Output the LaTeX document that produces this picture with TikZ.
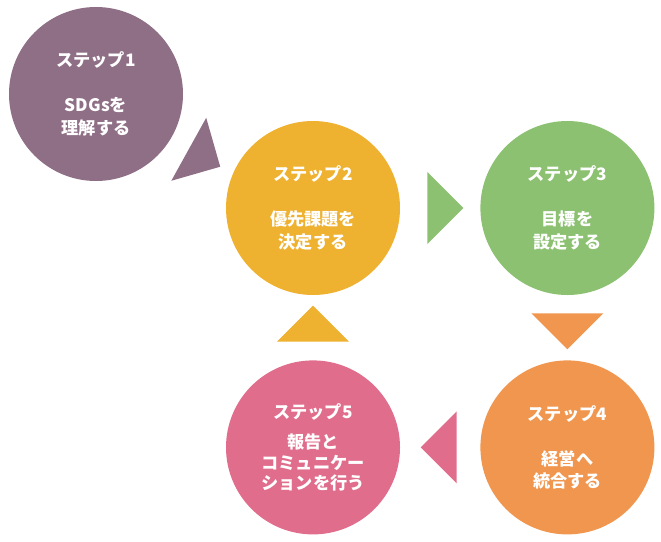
\documentclass[tikz,border=0pt]{standalone}
\usepackage{fontspec}
\newfontfamily\jpfont{Noto Sans CJK JP}
\usetikzlibrary{positioning, calc}
\definecolor{stepviolet}{HTML}{8F6F86}
\definecolor{stepyellow}{HTML}{EEB130}
\definecolor{stepgreen}{HTML}{8CC171}
\definecolor{steporange}{HTML}{F0964F}
\definecolor{steppink}{HTML}{E06D8C}
\tikzset{
  base/.style={
    circle, draw=none, minimum size=174pt, inner sep=0pt,
    align=center, text=white,
    font=\jpfont\bfseries\fontsize{17.2}{22.5}\selectfont,
  },
  s1box/.style={base, fill=stepviolet},
  s2box/.style={base, fill=stepyellow},
  s3box/.style={base, fill=stepgreen},
  s4box/.style={base, fill=steporange},
  s5box/.style={base, fill=steppink},
  % flat triangle pointing along +x, turned with rotate=
  stepmark/.pic={\fill (-18,-36) -- (18,0) -- (-18,36) -- cycle;},
}

\begin{document}
\begin{tikzpicture}[x=1pt, y=-1pt]
\useasboundingbox (0,0) rectangle (661,541);

%% ════════════════════════════════════════════════════════════
%%  STEP CIRCLES
%% ════════════════════════════════════════════════════════════
\node[s1box] (s1) at (96,94)
  {ステップ1\\ \\SDGsを\\理解する};

\node[s2box] (s2) at (313,208)
  {ステップ2\\ \\優先課題を\\決定する};

\node[s3box, right=80pt of s2] (s3)
  {ステップ3\\ \\目標を\\設定する};

\node[s4box, below=65pt of s3] (s4)
  {ステップ4\\ \\経営へ\\統合する};

\node[s5box, left=80pt of s4] (s5)
  {ステップ5\\[8pt]報告と\\[-2pt]コミュニケー\\[-2pt]ションを行う};

%% ════════════════════════════════════════════════════════════
%%  TRIANGLE MARKS BETWEEN STEPS
%% ════════════════════════════════════════════════════════════
\pic[fill=stepviolet, rotate=-29] at ($(s1)!0.5!(s2)+(0,7)$) {stepmark};
\pic[fill=stepgreen]              at ($(s2)!0.52!(s3)$)      {stepmark};
\pic[fill=steporange, rotate=-90] at ($(s3)!0.515!(s4)$)     {stepmark};
\pic[fill=steppink, rotate=180]   at ($(s4)!0.506!(s5)$)     {stepmark};
\pic[fill=stepyellow, rotate=90]  at ($(s5)!0.517!(s2)$)     {stepmark};

\end{tikzpicture}
\end{document}
